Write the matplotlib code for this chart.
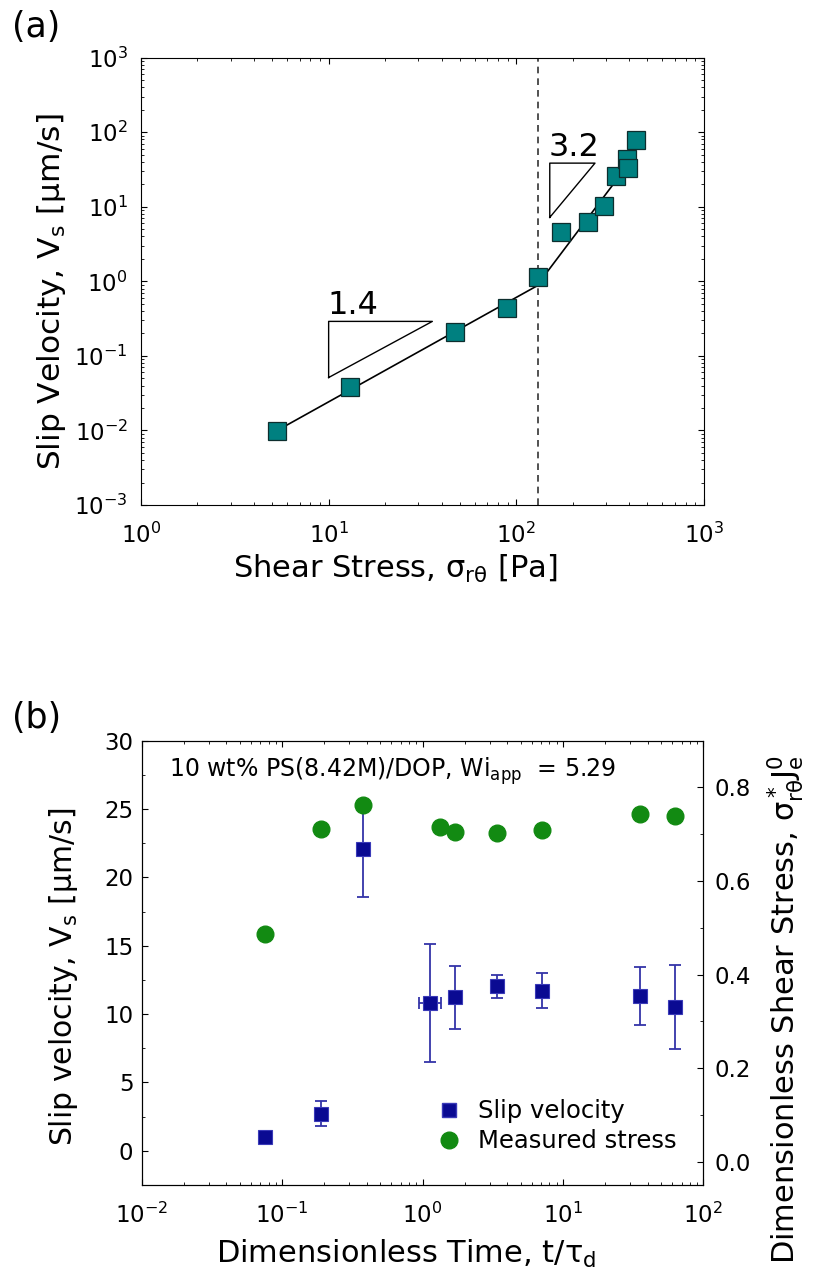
import numpy as np
import matplotlib
matplotlib.use("Agg")
import matplotlib.pyplot as plt
from matplotlib.ticker import LogLocator, MultipleLocator, NullFormatter, FormatStrFormatter
from matplotlib.lines import Line2D

plt.rcParams["font.family"] = ["DejaVu Sans"]
plt.rcParams["mathtext.fontset"] = "dejavusans"
plt.rcParams["xtick.direction"] = "in"
plt.rcParams["ytick.direction"] = "in"
plt.rcParams["xtick.major.size"] = 4
plt.rcParams["ytick.major.size"] = 4
plt.rcParams["xtick.minor.size"] = 2
plt.rcParams["ytick.minor.size"] = 2
plt.rcParams["xtick.major.pad"] = 13
plt.rcParams["ytick.major.pad"] = 6

# ============================================================
# (a) slip velocity vs shear stress
# ============================================================
stress_pa = [5.29, 13.0, 47.3, 89.2, 130, 174, 240, 292, 340, 387, 395, 434]
slip_vel = [0.0099, 0.0384, 0.209, 0.443, 1.14, 4.65, 6.2, 10.1, 26.1, 43.6, 32.7, 79]

# two power-law branches of the fit
fit_stress = [5.29, 128, 338]
fit_vel = [0.0099, 0.86, 22.0]

sigma_c = 130  # transition stress (dashed line)

# slope triangles: (x_left, x_right, y_low, y_high)
tri_low = (10, 35.7, 0.0512, 0.29)
tri_high = (150.8, 262.6, 7.2, 38.5)
slope_labels = ["1.4", "3.2"]

# ============================================================
# (b) start-up data vs dimensionless time
# ============================================================
t_vs = [0.0759, 0.189, 0.377, 1.13, 1.69, 3.41, 7.13, 35.2, 63.2]
vs = [1.02, 2.71, 22.06, 10.79, 11.22, 12.02, 11.71, 11.34, 10.55]
vs_err = [0.15, 0.9, 3.5, 4.33, 2.33, 0.85, 1.3, 2.14, 3.07]
t_xerr_low = [0, 0, 0, 0.18, 0, 0, 0, 0, 0]
t_xerr_high = [0, 0, 0, 0.22, 0, 0, 0, 0, 0]

t_stress = [0.075, 0.189, 0.377, 1.33, 1.71, 3.41, 7.13, 35.2, 63.2]
stress_nd = [0.486, 0.711, 0.762, 0.715, 0.704, 0.702, 0.708, 0.743, 0.740]

teal = "#008080"
navy = "#0a0a92"
navy_err = "#3434a8"
green = "#128a12"

fig = plt.figure(figsize=(8.14, 12.79), dpi=100)

# ------------------------------------------------------------
# Panel (a)
# ------------------------------------------------------------
ax1 = fig.add_axes([0.1732, 0.6052, 0.6916, 0.3497])
ax1.set_xscale("log")
ax1.set_yscale("log")
ax1.set_xlim(1, 1e3)
ax1.set_ylim(1e-3, 1e3)

ax1.plot(fit_stress, fit_vel, color="black", lw=1.2, zorder=2)
ax1.axvline(sigma_c, color="#333333", ls="--", lw=1.2, dashes=(4, 3), zorder=1)
ax1.plot(stress_pa, slip_vel, ls="none", marker="s", ms=12.5,
         mfc=teal, mec="#0d2e2e", mew=0.9, zorder=3)

for tri, lab in zip([tri_low, tri_high], slope_labels):
    x0, x1, y0, y1 = tri
    ax1.plot([x0, x0, x1, x0], [y0, y1, y1, y0], color="black", lw=1.0)
    ax1.text(x0 * 0.99, y1 * 1.25, lab, fontsize=23, ha="left", va="baseline")

ax1.set_xlabel(r"Shear Stress, $\mathrm{\sigma_{r\theta}}$ [Pa]", fontsize=22)
ax1.xaxis.set_label_coords(0.451, -0.107)
ax1.set_ylabel(r"Slip Velocity, $\mathrm{V_s}$ [μm/s]", fontsize=22.5)
ax1.yaxis.set_label_coords(-0.13, 0.4765)

ax1.xaxis.set_major_locator(LogLocator(base=10, numticks=10))
ax1.xaxis.set_minor_locator(LogLocator(base=10, subs=np.arange(2, 10), numticks=10))
ax1.yaxis.set_major_locator(LogLocator(base=10, numticks=10))
ax1.yaxis.set_minor_locator(LogLocator(base=10, subs=np.arange(2, 10), numticks=10))
ax1.xaxis.set_minor_formatter(NullFormatter())
ax1.yaxis.set_minor_formatter(NullFormatter())
ax1.tick_params(which="both", top=True, right=True, labelsize=16.5)
ax1.tick_params(axis="y", which="major", pad=9.5)

fig.text(0.0147, 0.971, "(a)", fontsize=25, va="baseline")

# ------------------------------------------------------------
# Panel (b)
# ------------------------------------------------------------
ax2 = fig.add_axes([0.1741, 0.0735, 0.690, 0.3474])
ax2.set_xscale("log")
ax2.set_xlim(1e-2, 1e2)
ax2.set_ylim(-2.5, 30)

ax2.errorbar(t_vs, vs, yerr=vs_err, xerr=[t_xerr_low, t_xerr_high],
             fmt="none", ecolor=navy_err, elinewidth=1.3, capsize=4, capthick=1.3, zorder=2)
ax2.plot(t_vs, vs, ls="none", marker="s", ms=10.5, mfc=navy, mec="#3a3ab8", mew=0.8, zorder=3)

ax2.yaxis.set_major_locator(MultipleLocator(5))
ax2.yaxis.set_minor_locator(MultipleLocator(2.5))
ax2.xaxis.set_major_locator(LogLocator(base=10, numticks=10))
ax2.xaxis.set_minor_locator(LogLocator(base=10, subs=np.arange(2, 10), numticks=10))
ax2.xaxis.set_minor_formatter(NullFormatter())
ax2.tick_params(which="both", top=True, right=False, labelsize=16.5)

ax2.set_xlabel(r"Dimensionless Time, $\mathrm{t/\tau_d}$", fontsize=22)
ax2.xaxis.set_label_coords(0.47, -0.118)
ax2.set_ylabel(r"Slip velocity, $\mathrm{V_s}$ [μm/s]", fontsize=21.5)
ax2.yaxis.set_label_coords(-0.11, 0.468)

ax3 = ax2.twinx()
ax3.set_ylim(-0.05, 0.9)
ax3.plot(t_stress, stress_nd, ls="none", marker="o", ms=12, mfc=green, mec=green, zorder=3)
ax3.yaxis.set_major_locator(MultipleLocator(0.2))
ax3.yaxis.set_minor_locator(MultipleLocator(0.1))
ax3.yaxis.set_major_formatter(FormatStrFormatter("%.1f"))
ax3.tick_params(which="both", direction="in", labelsize=16.5, pad=8)
ax3.set_ylabel(r"Dimensionless Shear Stress, $\mathrm{\sigma^*_{r\theta}J^0_e}$", fontsize=22)
ax3.yaxis.set_label_coords(1.11, 0.395)

ax2.text(0.049, 0.931, r"10 wt% PS(8.42M)/DOP, Wi$_\mathrm{app}$  = 5.29",
         transform=ax2.transAxes, fontsize=17, ha="left", va="center")

# legend
legend_elements = [
    Line2D([0], [0], ls="none", marker="s", ms=10.5, mfc=navy, mec="#3a3ab8", label="Slip velocity"),
    Line2D([0], [0], ls="none", marker="o", ms=12, mfc=green, mec=green, label="Measured stress"),
]
ax2.legend(handles=legend_elements, loc="lower left", bbox_to_anchor=(0.526, 0.071),
           frameon=False, fontsize=17.5, handlelength=1.0, handletextpad=0.7,
           labelspacing=0.25, borderpad=0, borderaxespad=0)

fig.text(0.0147, 0.431, "(b)", fontsize=25, va="baseline")

fig.savefig("out.png", dpi=100)
